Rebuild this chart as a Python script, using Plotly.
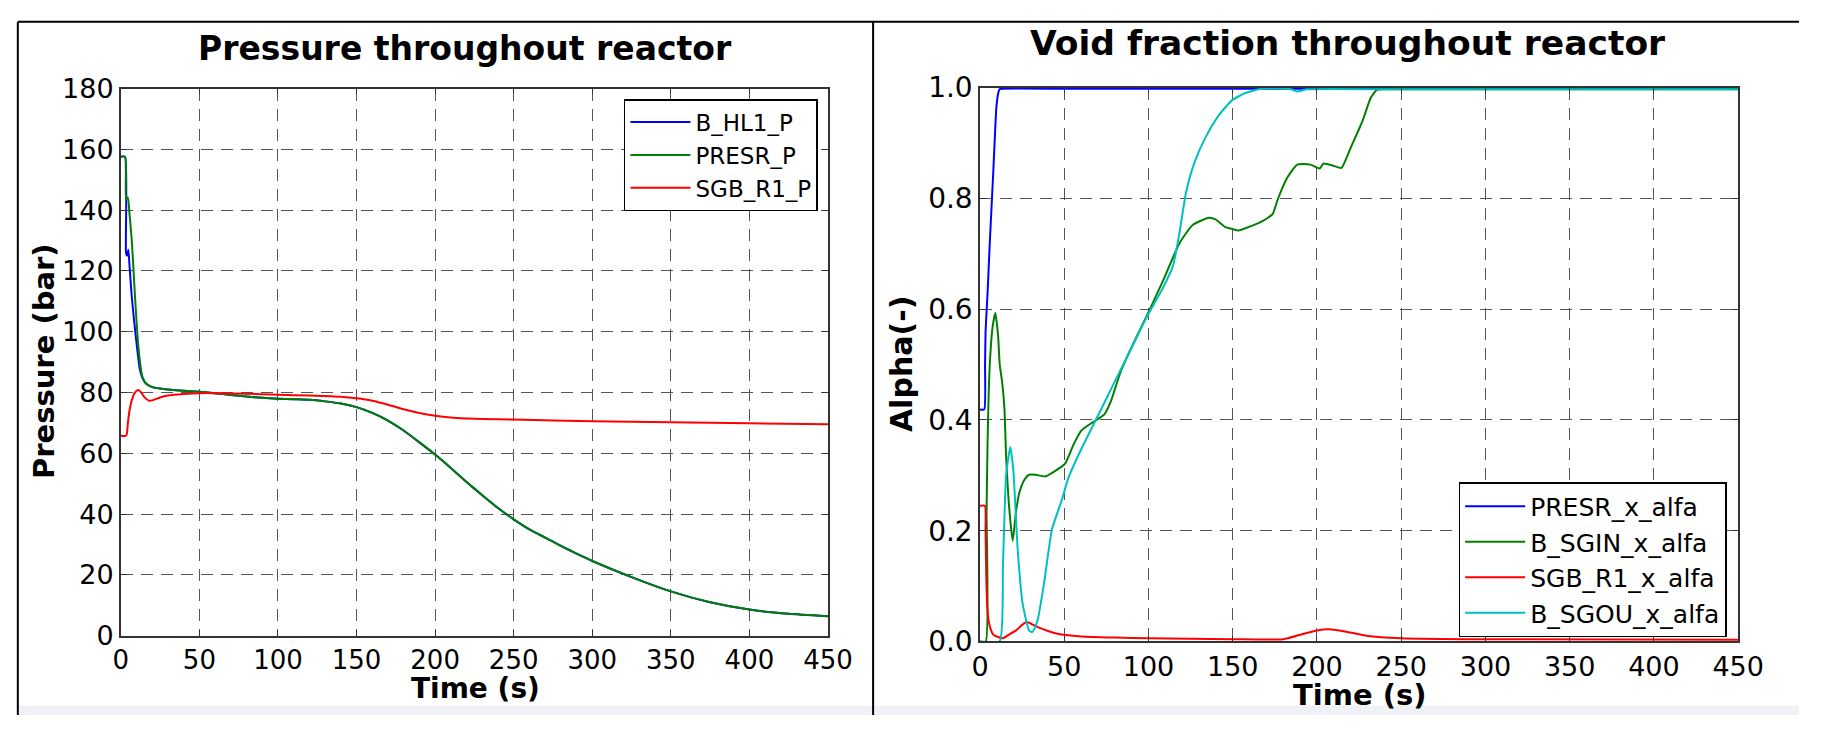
import plotly.graph_objects as go

# ---------------- Pressure data (bar) ----------------
t_hl1 = [0, 2.7, 3.3, 4.0, 4.8, 5.5, 6.9, 8.0, 9.0, 10.5, 12, 14, 16, 20, 25, 30, 40, 50, 60, 70, 80, 90,
         100, 110, 120, 130, 140, 150, 160, 170, 180, 190, 200, 210, 220, 230, 240, 250, 260, 270,
         280, 290, 300, 325, 350, 375, 400, 425, 450]
p_hl1 = [157.6, 157.6, 126.0, 125.0, 127.0, 122.0, 112.0, 106.0, 101.0, 94.0, 88.0, 84.5, 83.0, 81.8,
         81.3, 81.0, 80.6, 80.3, 79.8, 79.2, 78.7, 78.3, 78.0, 77.8, 77.6, 77.1, 76.4, 75.2, 73.3,
         70.8, 67.5, 63.6, 59.6, 55.2, 50.6, 46.2, 42.0, 38.3, 35.0, 32.3, 29.6, 27.0, 24.6, 19.3,
         14.6, 11.0, 8.6, 7.2, 6.4]

t_presr = [0, 2.7, 3.3, 4.5, 5.5, 6.9, 8.0, 9.0, 10.0, 11.0, 12.0, 13.0, 14, 16, 20, 25, 30, 40, 50, 60,
           70, 80, 90, 100, 110, 120, 130, 140, 150, 160, 170, 180, 190, 200, 210, 220, 230, 240,
           250, 260, 270, 280, 290, 300, 325, 350, 375, 400, 425, 450]
p_presr = [157.6, 157.6, 143.5, 144.2, 139.0, 130.6, 121.0, 111.8, 103.5, 96.0, 91.0, 87.0, 84.8,
           83.0, 81.8, 81.3, 81.0, 80.6, 80.3, 79.8, 79.2, 78.7, 78.3, 78.0, 77.8, 77.6, 77.1, 76.4,
           75.2, 73.3, 70.8, 67.5, 63.6, 59.6, 55.2, 50.6, 46.2, 42.0, 38.3, 35.0, 32.3, 29.6, 27.0,
           24.6, 19.3, 14.6, 11.0, 8.6, 7.2, 6.4]

t_sgb = [0, 3.5, 4.5, 5.5, 7, 9, 11, 13, 15, 18, 21, 25, 30, 40, 50, 60, 80, 100, 120, 140, 150, 160,
         170, 180, 190, 200, 210, 220, 230, 250, 300, 350, 400, 450]
p_sgb = [65.8, 65.8, 70.0, 74.0, 77.5, 80.0, 80.8, 80.0, 78.5, 77.3, 77.6, 78.4, 79.0, 79.5, 79.8,
         79.8, 79.6, 79.3, 79.0, 78.6, 78.1, 77.3, 76.0, 74.5, 73.3, 72.4, 71.8, 71.5, 71.3, 71.1,
         70.6, 70.2, 69.9, 69.6]

# ---------------- Void fraction data (-) ----------------
t_presr_a = [0, 2.5, 3.0, 3.3, 4.5, 5.8, 7.8, 9.7, 10.8, 11.6, 13, 50, 100, 200, 300, 450]
a_presr = [0.419, 0.419, 0.50, 0.56, 0.63, 0.72, 0.843, 0.964, 0.99, 0.997, 0.998, 0.998, 0.998,
           0.998, 0.998, 0.998]

t_sgin = [0, 3.4, 3.9, 4.5, 5.0, 5.8, 7.4, 9.1, 10.7, 11.7, 13.2, 14.5, 15.5, 17.5, 19.4, 21.4, 23.3,
          26.2, 29.1, 33, 38.8, 44.7, 50.5, 55.3, 60.2, 66, 73.8, 77.7, 83.5, 91.3, 99.8, 108.7,
          118.4, 126.2, 135.9, 139.8, 145.6, 149.5, 153.4, 159.2, 167, 170.9, 173.8, 176.7, 182.5,
          188.3, 196.1, 201.6, 203.9, 209.7, 214.5, 219.8, 226.8, 232, 235.5, 240, 300, 450]
a_sgin = [0.0, 0.0, 0.235, 0.36, 0.43, 0.50, 0.566, 0.593, 0.553, 0.50, 0.467, 0.42, 0.334, 0.235,
          0.182, 0.235, 0.268, 0.291, 0.301, 0.301, 0.298, 0.308, 0.321, 0.354, 0.381, 0.394, 0.41,
          0.434, 0.487, 0.54, 0.593, 0.652, 0.719, 0.752, 0.765, 0.762, 0.748, 0.745, 0.742, 0.748,
          0.758, 0.765, 0.772, 0.798, 0.838, 0.861, 0.861, 0.854, 0.863, 0.859, 0.855, 0.89, 0.938,
          0.982, 0.996, 0.997, 0.997, 0.997]

t_sgb_a = [0, 2.9, 3.3, 3.7, 4.2, 5, 6, 8, 10.7, 13.6, 17, 21.4, 25, 27.6, 31, 35, 44.7, 60, 80, 100,
           150, 180, 190, 200, 207, 215, 230, 250, 300, 450]
a_sgb = [0.245, 0.245, 0.20, 0.12, 0.07, 0.04, 0.025, 0.012, 0.008, 0.006, 0.012, 0.02, 0.03, 0.035,
         0.031, 0.025, 0.015, 0.009, 0.007, 0.006, 0.004, 0.004, 0.012, 0.02, 0.022, 0.019, 0.01,
         0.006, 0.004, 0.003]

t_sgou = [0, 11.6, 13.6, 15.5, 18, 19.8, 22.3, 25.2, 29.1, 31, 34, 37.9, 42.7, 48.5, 52.4, 60.2, 69.9,
          79.6, 89.3, 99, 108.7, 114.6, 118.4, 122.3, 127.2, 134, 141.7, 149.5, 157.3, 167, 184.5,
          188.3, 194, 250, 450]
a_sgou = [0.0, 0.0, 0.136, 0.301, 0.351, 0.308, 0.169, 0.07, 0.02, 0.017, 0.036, 0.103, 0.202, 0.255,
          0.295, 0.348, 0.407, 0.467, 0.526, 0.586, 0.639, 0.679, 0.738, 0.811, 0.864, 0.911, 0.95,
          0.977, 0.99, 0.998, 0.997, 0.993, 0.997, 0.997, 0.997]

x_ticks = [0, 50, 100, 150, 200, 250, 300, 350, 400, 450]
p_ticks = [0, 20, 40, 60, 80, 100, 120, 140, 160, 180]
a_ticks = [0.0, 0.2, 0.4, 0.6, 0.8, 1.0]
a_tick_text = ["0.0", "0.2", "0.4", "0.6", "0.8", "1.0"]

BLUE, GREEN, RED, CYAN = "#0000ff", "#008000", "#ff0000", "#00bfbf"
FONT = "DejaVu Sans"
W, H = 1825, 732


def px(x):
    return x / W


def py(y):
    return 1 - y / H


fig = go.Figure()

line_kw = dict(shape="spline", smoothing=0.5, width=2)

fig.add_trace(go.Scatter(x=t_hl1, y=p_hl1, name="B_HL1_P", mode="lines",
                         line=dict(color=BLUE, **line_kw), xaxis="x", yaxis="y", legend="legend"))
fig.add_trace(go.Scatter(x=t_presr, y=p_presr, name="PRESR_P", mode="lines",
                         line=dict(color=GREEN, **line_kw), xaxis="x", yaxis="y", legend="legend"))
fig.add_trace(go.Scatter(x=t_sgb, y=p_sgb, name="SGB_R1_P", mode="lines",
                         line=dict(color=RED, **line_kw), xaxis="x", yaxis="y", legend="legend"))

fig.add_trace(go.Scatter(x=t_presr_a, y=a_presr, name="PRESR_x_alfa", mode="lines",
                         line=dict(color=BLUE, **line_kw), xaxis="x2", yaxis="y2", legend="legend2"))
fig.add_trace(go.Scatter(x=t_sgin, y=a_sgin, name="B_SGIN_x_alfa", mode="lines",
                         line=dict(color=GREEN, **line_kw), xaxis="x2", yaxis="y2", legend="legend2"))
fig.add_trace(go.Scatter(x=t_sgb_a, y=a_sgb, name="SGB_R1_x_alfa", mode="lines",
                         line=dict(color=RED, **line_kw), xaxis="x2", yaxis="y2", legend="legend2"))
fig.add_trace(go.Scatter(x=t_sgou, y=a_sgou, name="B_SGOU_x_alfa", mode="lines",
                         line=dict(color=CYAN, **line_kw), xaxis="x2", yaxis="y2", legend="legend2"))

axis_common = dict(
    showline=True, linecolor="#333333", linewidth=1.5, mirror="ticks",
    ticks="inside", ticklen=6, tickcolor="#333333", tickwidth=1,
    showgrid=True, gridcolor="#555555", gridwidth=1, griddash="12px,8px",
    zeroline=False,
)

fig.update_layout(
    width=W, height=H, autosize=False,
    margin=dict(l=0, r=0, t=0, b=0),
    paper_bgcolor="white", plot_bgcolor="white",
    font=dict(family=FONT, color="black"),
    xaxis=dict(domain=[px(114), px(835)], range=[0, 450], tickvals=x_ticks,
               tickfont=dict(size=26), anchor="y", **axis_common),
    yaxis=dict(domain=[py(649), py(76)], range=[0, 180], tickvals=p_ticks,
               tickfont=dict(size=27), anchor="x", **axis_common),
    xaxis2=dict(domain=[px(990), px(1763)], range=[0, 450], tickvals=x_ticks,
                tickfont=dict(size=27), anchor="y2", **axis_common),
    yaxis2=dict(domain=[py(655), py(75)], range=[0, 1.0], tickvals=a_ticks, ticktext=a_tick_text,
                tickfont=dict(size=28), anchor="x2", **axis_common),
    legend=dict(x=px(627), y=py(87), xanchor="left", yanchor="top", itemwidth=60,
                bgcolor="white", bordercolor="black", borderwidth=1.5,
                font=dict(size=23, family=FONT)),
    legend2=dict(x=px(1478), y=py(488), xanchor="left", yanchor="top", itemwidth=60,
                 bgcolor="white", bordercolor="black", borderwidth=1.5,
                 font=dict(size=25, family=FONT)),
)

annotations = [
    dict(text="Pressure throughout reactor", x=px(465), y=py(34), size=33),
    dict(text="Void fraction throughout reactor", x=px(1365), y=py(28), size=34.5),
    dict(text="Time (s)", x=px(476), y=py(704), size=28),
    dict(text="Time (s)", x=px(1377), y=py(711), size=29),
    dict(text="Pressure (bar)", x=px(35), y=py(361), size=29, angle=-90),
    dict(text="Alpha(-)", x=px(910), y=py(365), size=30, angle=-90),
]
fig.update_layout(annotations=[
    dict(text=a["text"], x=a["x"], y=a["y"], xref="paper", yref="paper",
         xanchor="center", yanchor="middle", showarrow=False, textangle=a.get("angle", 0),
         font=dict(size=a["size"], family=FONT, weight="bold", color="black"))
    for a in annotations
])

# Panel frames and bottom strip
shapes = [
    dict(type="rect", x0=px(10), x1=1, y0=py(732), y1=py(722), fillcolor="#eef2f6",
         line=dict(width=0)),
    dict(type="line", x0=px(9), x1=px(9), y0=py(6), y1=py(732), line=dict(color="black", width=2)),
    dict(type="line", x0=px(9), x1=1, y0=py(6), y1=py(6), line=dict(color="black", width=2)),
    dict(type="line", x0=px(881), x1=px(881), y0=py(6), y1=py(732), line=dict(color="black", width=2)),
]
fig.update_layout(shapes=[dict(xref="paper", yref="paper", **s) for s in shapes])

page_css = ("document.documentElement.style.margin='0';document.body.style.margin='0';"
            "document.documentElement.style.overflow='hidden';document.body.style.overflow='hidden';")
fig.write_html("out.html", post_script=page_css)
